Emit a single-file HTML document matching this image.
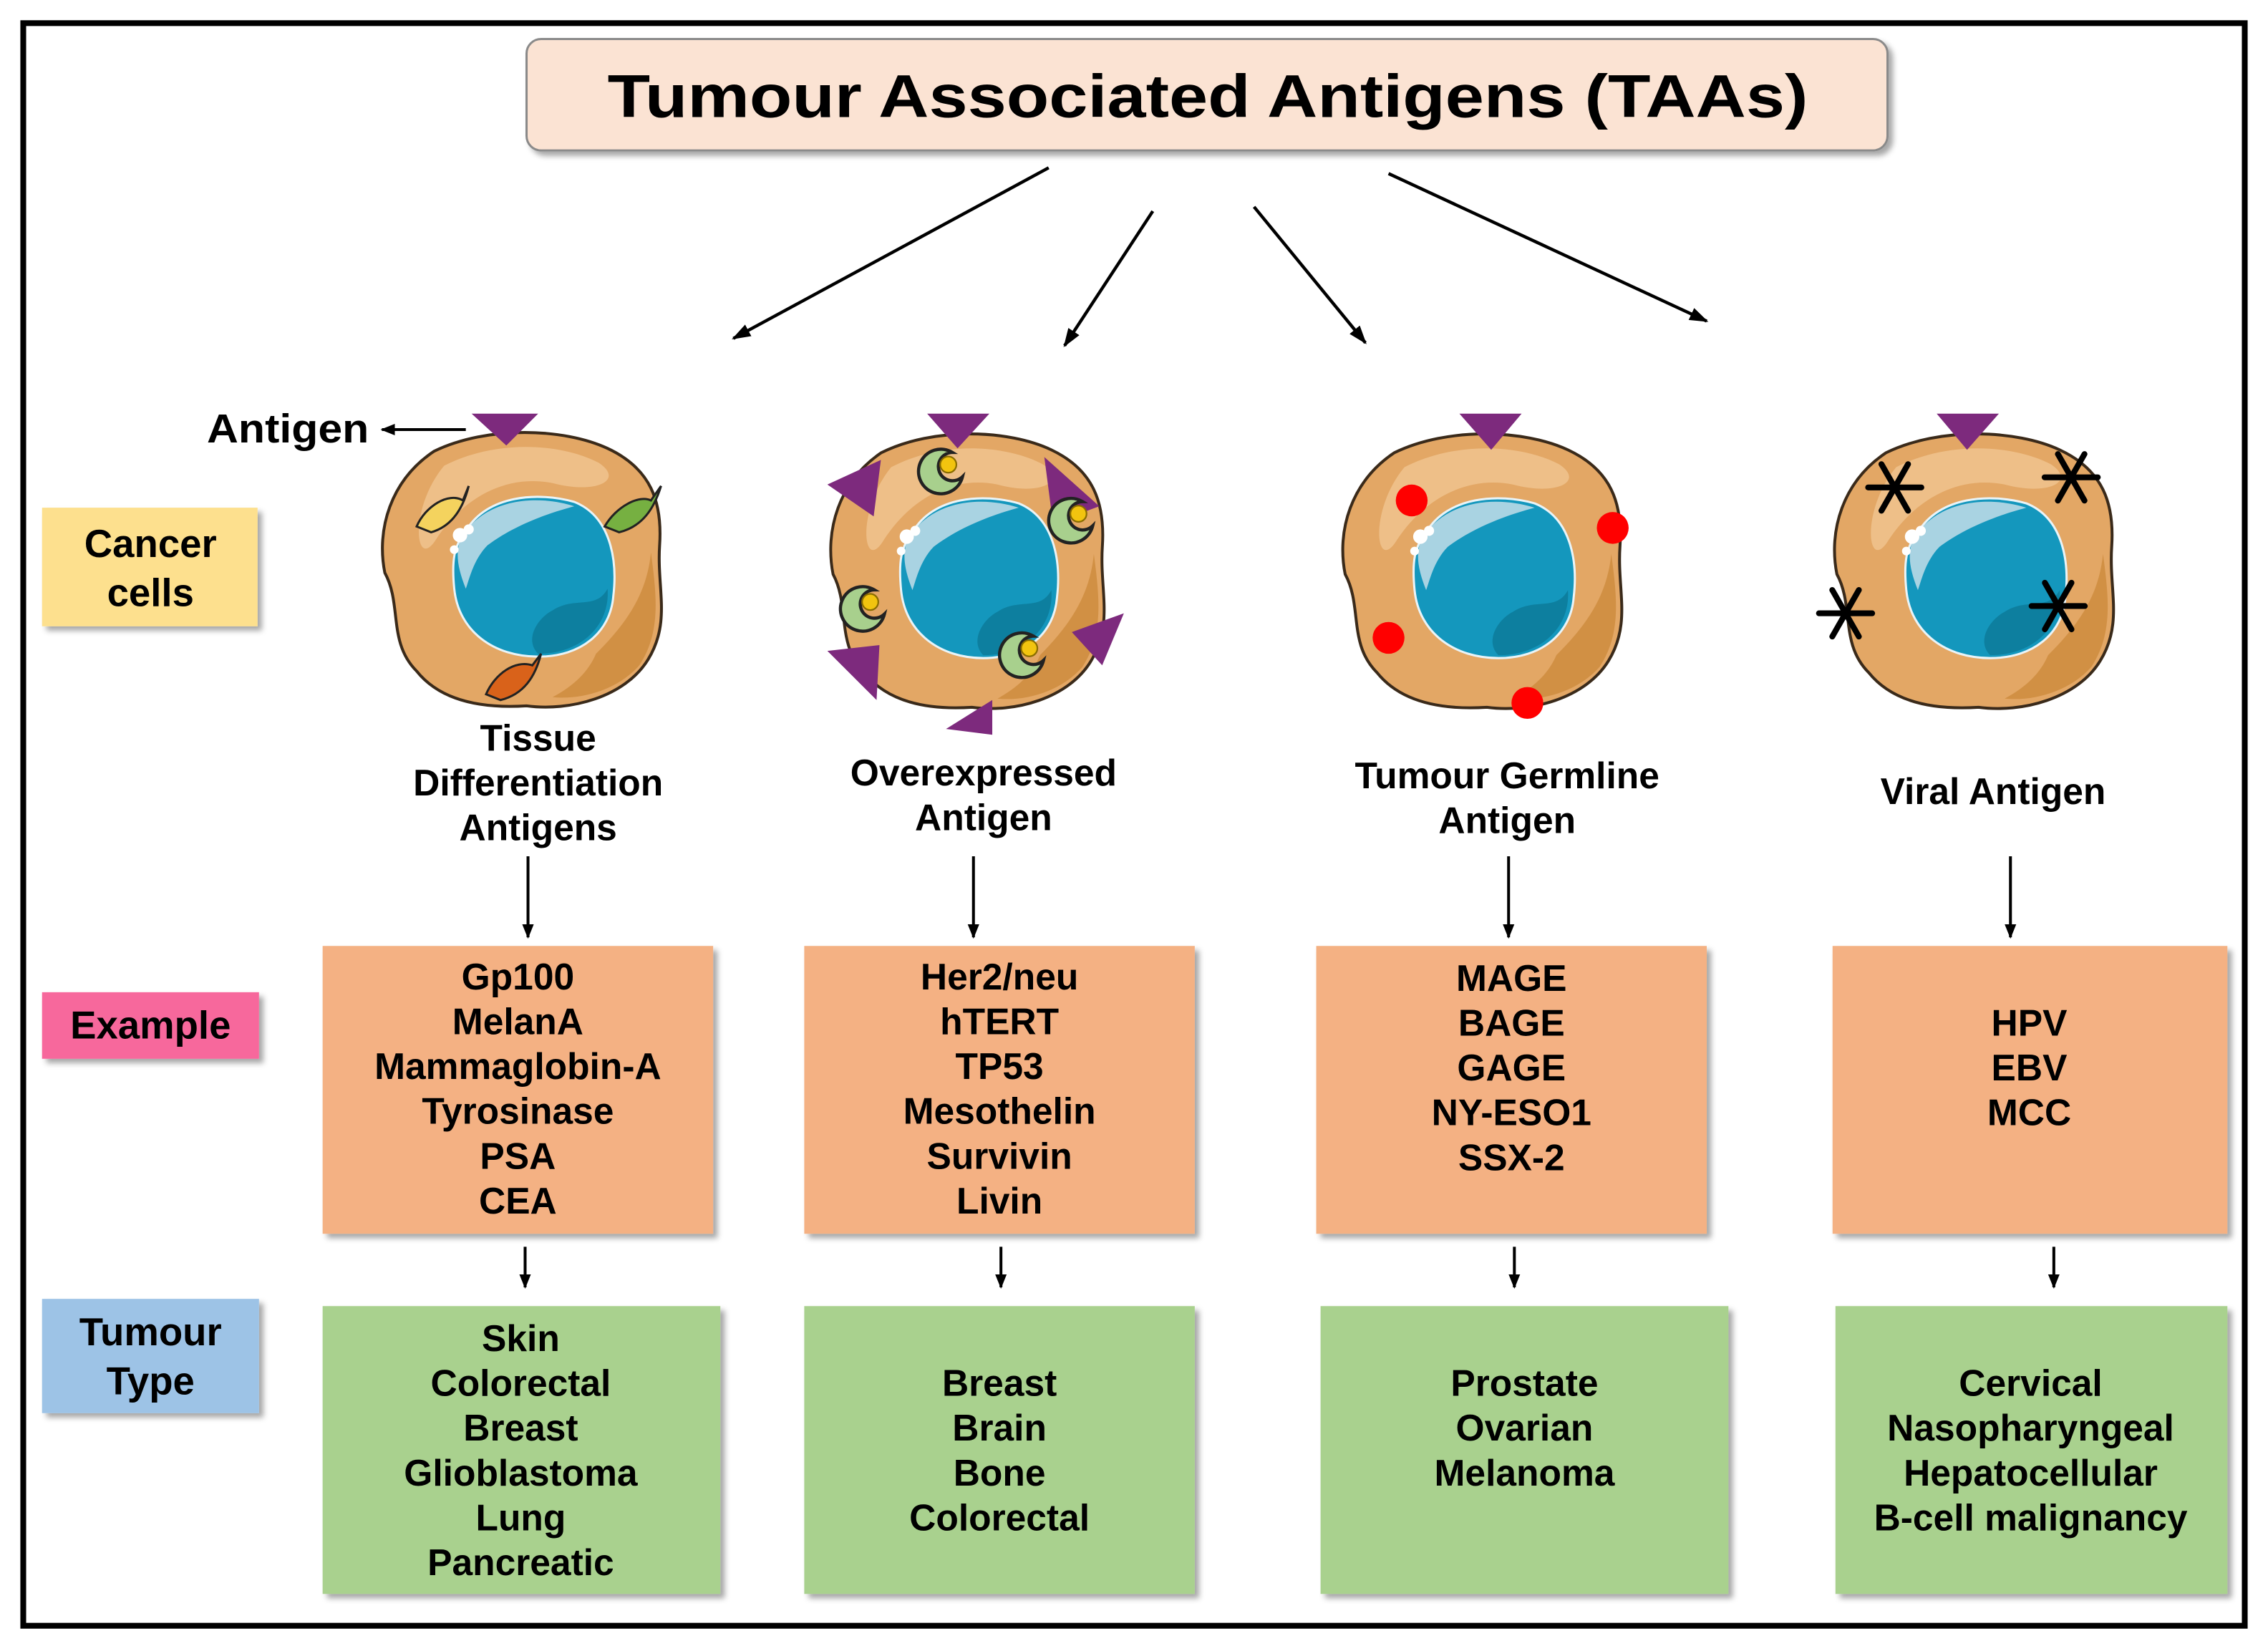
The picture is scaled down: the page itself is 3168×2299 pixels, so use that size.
<!DOCTYPE html>
<html><head><meta charset="utf-8">
<style>
html,body{margin:0;padding:0;background:#fff;}
svg{display:block;}
text{font-family:"Liberation Sans",Arial,sans-serif;font-weight:bold;fill:#000;}
</style></head>
<body>
<svg width="3168" height="2299" viewBox="0 0 1568 1138" xmlns="http://www.w3.org/2000/svg">
<defs>
<marker id="ah" viewBox="0 0 10 10" refX="9" refY="5" markerWidth="10" markerHeight="10" orient="auto" markerUnits="userSpaceOnUse">
<path d="M0,1 L10,5 L0,9 Z" fill="#000"/></marker>
<marker id="ahs" viewBox="0 0 10 10" refX="9" refY="5" markerWidth="13" markerHeight="13" orient="auto" markerUnits="userSpaceOnUse">
<path d="M0,1.5 L10,5 L0,8.5 Z" fill="#000"/></marker>
<filter id="sh" x="-10%" y="-10%" width="130%" height="130%">
<feDropShadow dx="3" dy="3" stdDeviation="2" flood-color="#000" flood-opacity="0.35"/></filter>
<g id="cell">
<path d="M-62,-80 C-25,-98 28,-96 58,-82 C88,-68 96,-45 94,-15 C92,15 102,38 86,64 C70,90 32,100 2,96 C-30,98 -58,92 -74,72 C-94,52 -84,26 -96,4 C-102,-26 -92,-60 -62,-80 Z" fill="#e3a765" stroke="#3a2a1a" stroke-width="2"/>
<path d="M-55,-70 C-20,-88 25,-86 52,-72 C70,-60 50,-50 20,-58 C-10,-64 -40,-50 -60,-20 C-75,5 -80,-40 -55,-70 Z" fill="#f0c591" opacity="0.8"/>
<path d="M50,60 C70,40 85,20 88,-10 C92,20 95,45 80,68 C65,85 40,92 20,90 C35,82 45,72 50,60 Z" fill="#c98636" opacity="0.7"/>
<path d="M-40,-25 C-25,-50 10,-52 35,-45 C60,-35 65,-5 62,20 C60,45 40,62 10,62 C-20,62 -45,45 -48,15 C-50,-5 -48,-15 -40,-25 Z" fill="#1497bd" stroke="#e9f4f8" stroke-width="1.5"/>
<path d="M-42,-22 C-25,-48 10,-50 35,-42 C20,-38 -5,-30 -25,-15 C-35,-5 -38,10 -40,15 C-46,0 -48,-12 -42,-22 Z" fill="#a9d3e2"/>
<path d="M20,30 C35,20 50,30 58,15 C60,40 40,60 10,60 C0,50 10,35 20,30 Z" fill="#0d7f9f"/>
<circle cx="-44" cy="-22" r="5" fill="#fff"/><circle cx="-38" cy="-26" r="3.5" fill="#fff"/><circle cx="-48" cy="-12" r="3" fill="#fff"/>
</g>
<g id="crescent">
<path d="M6,-8 A11,11 0 1 0 11,4 A7,7 0 1 1 6,-8 Z" fill="#a8d08d" stroke="#222" stroke-width="1.6"/>
<circle cx="4" cy="-2" r="4" fill="#f2c40f" stroke="#8a6d00" stroke-width="0.8"/>
</g>
<g id="ast" stroke="#000" stroke-width="3.5" stroke-linecap="round">
<line x1="-16" y1="0" x2="16" y2="0"/><line x1="-8" y1="-14" x2="8" y2="14"/><line x1="8" y1="-14" x2="-8" y2="14"/>
</g>
</defs>

<rect x="0" y="0" width="1568" height="1138" fill="#fff"/>
<rect x="16" y="16" width="1536" height="1108" fill="#fff" stroke="#000" stroke-width="4"/>

<rect x="364" y="27" width="941" height="77" rx="10" fill="#fbe3d3" stroke="#8a8a8a" stroke-width="1.5" filter="url(#sh)"/>
<text x="835" y="81" font-size="42" text-anchor="middle" textLength="830" lengthAdjust="spacingAndGlyphs">Tumour Associated Antigens (TAAs)</text>

<g stroke="#000" stroke-width="2.2">
<line x1="725" y1="116" x2="507" y2="234" marker-end="url(#ahs)"/>
<line x1="797" y1="146" x2="736" y2="239" marker-end="url(#ahs)"/>
<line x1="867" y1="143" x2="944" y2="237" marker-end="url(#ahs)"/>
<line x1="960" y1="120" x2="1180" y2="222" marker-end="url(#ahs)"/>
</g>

<rect x="29" y="351" width="149" height="82" fill="#fde08e" filter="url(#sh)"/>
<text x="104" y="385" font-size="27" text-anchor="middle">Cancer</text>
<text x="104" y="419" font-size="27" text-anchor="middle">cells</text>
<rect x="29" y="686" width="150" height="46" fill="#f7679c" filter="url(#sh)"/>
<text x="104" y="718" font-size="27" text-anchor="middle">Example</text>
<rect x="29" y="898" width="150" height="79" fill="#9dc3e6" filter="url(#sh)"/>
<text x="104" y="930" font-size="27" text-anchor="middle">Tumour</text>
<text x="104" y="964" font-size="27" text-anchor="middle">Type</text>

<text x="143" y="306" font-size="28" textLength="112" lengthAdjust="spacingAndGlyphs">Antigen</text>
<line x1="322" y1="297" x2="264" y2="297" stroke="#000" stroke-width="2" marker-end="url(#ah)"/>

<use href="#cell" transform="translate(362,392)"/>
<polygon points="326,286 372,286 350,308" fill="#7d2a7d"/>
<path d="M288,364 C294,350 310,340 320,346 L324,336 C320,352 312,364 298,368 Z" fill="#f4d35e" stroke="#222" stroke-width="1.5"/>
<path d="M418,364 C426,350 442,342 450,346 L457,336 C452,352 444,364 428,368 Z" fill="#76b041" stroke="#222" stroke-width="1.5"/>
<path d="M336,480 C342,466 356,456 368,460 L374,452 C370,468 362,480 346,484 Z" fill="#d9621a" stroke="#222" stroke-width="1.5"/>

<use href="#cell" transform="translate(670,393) scale(0.98,1)"/>
<polygon points="641,286 684,286 662,310" fill="#7d2a7d"/>
<polygon points="572,335 609,318 604,357" fill="#7d2a7d"/>
<polygon points="722,316 760,350 728,362" fill="#7d2a7d"/>
<polygon points="572,450 608,446 606,484" fill="#7d2a7d"/>
<polygon points="741,437 777,424 762,460" fill="#7d2a7d"/>
<polygon points="654,504 686,484 686,508" fill="#7d2a7d"/>
<use href="#crescent" transform="translate(650,324) scale(1.4)"/>
<use href="#crescent" transform="translate(740,358) scale(1.4)"/>
<use href="#crescent" transform="translate(596,419) scale(1.4)"/>
<use href="#crescent" transform="translate(706,451) scale(1.4)"/>

<use href="#cell" transform="translate(1026,393)"/>
<polygon points="1009,286 1052,286 1031,311" fill="#7d2a7d"/>
<circle cx="976" cy="346" r="11" fill="#f00"/>
<circle cx="1115" cy="365" r="11" fill="#f00"/>
<circle cx="960" cy="441" r="11" fill="#f00"/>
<circle cx="1056" cy="486" r="11" fill="#f00"/>

<use href="#cell" transform="translate(1366,393)"/>
<polygon points="1339,286 1382,286 1360,311" fill="#7d2a7d"/>
<use href="#ast" transform="translate(1310,337) scale(1.15)"/>
<use href="#ast" transform="translate(1432,330) scale(1.15)"/>
<use href="#ast" transform="translate(1276,424) scale(1.15)"/>
<use href="#ast" transform="translate(1423,419) scale(1.15)"/>

<g font-size="25.5" text-anchor="middle">
<text x="372" y="519">Tissue</text>
<text x="372" y="550">Differentiation</text>
<text x="372" y="581">Antigens</text>
<text x="680" y="543">Overexpressed</text>
<text x="680" y="574">Antigen</text>
<text x="1042" y="545">Tumour Germline</text>
<text x="1042" y="576">Antigen</text>
<text x="1378" y="556">Viral Antigen</text>
</g>

<g stroke="#000" stroke-width="2">
<line x1="365" y1="592" x2="365" y2="648" marker-end="url(#ah)"/>
<line x1="673" y1="592" x2="673" y2="648" marker-end="url(#ah)"/>
<line x1="1043" y1="592" x2="1043" y2="648" marker-end="url(#ah)"/>
<line x1="1390" y1="592" x2="1390" y2="648" marker-end="url(#ah)"/>
<line x1="363" y1="862" x2="363" y2="890" marker-end="url(#ah)"/>
<line x1="692" y1="862" x2="692" y2="890" marker-end="url(#ah)"/>
<line x1="1047" y1="862" x2="1047" y2="890" marker-end="url(#ah)"/>
<line x1="1420" y1="862" x2="1420" y2="890" marker-end="url(#ah)"/>
</g>

<g fill="#f4b183" filter="url(#sh)">
<rect x="223" y="654" width="270" height="199"/>
<rect x="556" y="654" width="270" height="199"/>
<rect x="910" y="654" width="270" height="199"/>
<rect x="1267" y="654" width="273" height="199"/>
</g>
<g font-size="25.5" text-anchor="middle">
<text x="358" y="684">Gp100</text><text x="358" y="715">MelanA</text><text x="358" y="746">Mammaglobin-A</text>
<text x="358" y="777">Tyrosinase</text><text x="358" y="808">PSA</text><text x="358" y="839">CEA</text>
<text x="691" y="684">Her2/neu</text><text x="691" y="715">hTERT</text><text x="691" y="746">TP53</text>
<text x="691" y="777">Mesothelin</text><text x="691" y="808">Survivin</text><text x="691" y="839">Livin</text>
<text x="1045" y="685">MAGE</text><text x="1045" y="716">BAGE</text><text x="1045" y="747">GAGE</text>
<text x="1045" y="778">NY-ESO1</text><text x="1045" y="809">SSX-2</text>
<text x="1403" y="716">HPV</text><text x="1403" y="747">EBV</text><text x="1403" y="778">MCC</text>
</g>

<g fill="#a9d18e" filter="url(#sh)">
<rect x="223" y="903" width="275" height="199"/>
<rect x="556" y="903" width="270" height="199"/>
<rect x="913" y="903" width="282" height="199"/>
<rect x="1269" y="903" width="271" height="199"/>
</g>
<g font-size="25.5" text-anchor="middle">
<text x="360" y="934">Skin</text><text x="360" y="965">Colorectal</text><text x="360" y="996">Breast</text>
<text x="360" y="1027">Glioblastoma</text><text x="360" y="1058">Lung</text><text x="360" y="1089">Pancreatic</text>
<text x="691" y="965">Breast</text><text x="691" y="996">Brain</text><text x="691" y="1027">Bone</text><text x="691" y="1058">Colorectal</text>
<text x="1054" y="965">Prostate</text><text x="1054" y="996">Ovarian</text><text x="1054" y="1027">Melanoma</text>
<text x="1404" y="965">Cervical</text><text x="1404" y="996">Nasopharyngeal</text><text x="1404" y="1027">Hepatocellular</text><text x="1404" y="1058">B-cell malignancy</text>
</g>
</svg>
</body></html>
